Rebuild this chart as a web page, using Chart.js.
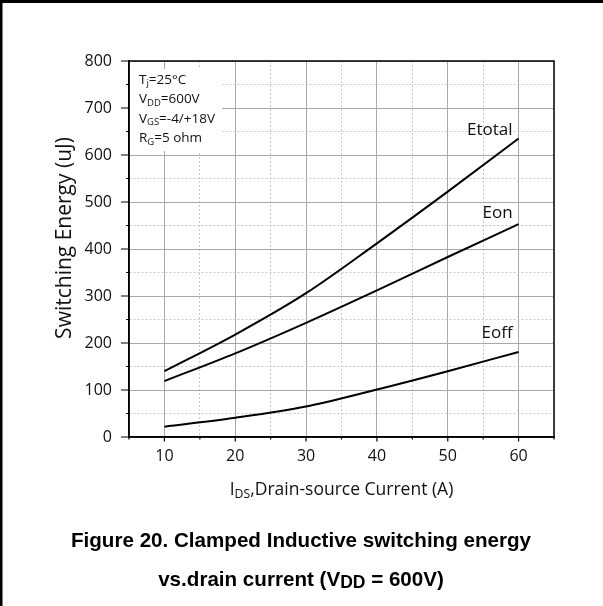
<!DOCTYPE html>
<html>
<head>
<meta charset="utf-8">
<script src="https://cdn.jsdelivr.net/npm/chart.js@4/dist/chart.umd.min.js"></script>
<style>
  html, body { margin: 0; padding: 0; background: #fff; }
  canvas { display: block; }
</style>
</head>
<body>
<canvas id="chart" width="603" height="606"></canvas>
<script>
// drain current (A) and switching energy (uJ)
const currents = [10, 20, 30, 40, 50, 60];
const eTotal = [140, 218, 306, 412, 522, 635];
const eOn = [119, 178, 243, 312, 383, 453];
const eOff = [22, 41, 65, 101, 140, 181];

const seriesNames = ["Etotal", "Eon", "Eoff"];
const conditions = [
    [["T", ""], ["j", "sub"], ["=25°C", ""]],
    [["V", ""], ["DD", "sub"], ["=600V", ""]],
    [["V", ""], ["GS", "sub"], ["=-4/+18V", ""]],
    [["R", ""], ["G", "sub"], ["=5 ohm", ""]],
];

const FONT = "'Open Sans', 'DejaVu Sans', sans-serif";

function toPoints(ys) {
    return currents.map((x, i) => ({ x: x, y: ys[i] }));
}

// text with subscripts, parts = [[text, "sub" | ""], ...]
function drawRich(ctx, parts, x, y, size, align, weight, family, subScale) {
    const w = weight || "normal";
    const fam = family || FONT;
    const k = subScale || 0.7;
    let total = 0;
    parts.forEach(([t, kind]) => {
        const s = kind === "sub" ? size * k : size;
        ctx.font = `${w} ${s}px ${fam}`;
        total += ctx.measureText(t).width;
    });
    let cx = align === "center" ? x - total / 2 : align === "right" ? x - total : x;
    ctx.textAlign = "left";
    ctx.textBaseline = "middle";
    parts.forEach(([t, kind]) => {
        const s = kind === "sub" ? size * k : size;
        ctx.font = `${w} ${s}px ${fam}`;
        ctx.fillText(t, cx, kind === "sub" ? y + size * (1 - k) * 0.9 : y);
        cx += ctx.measureText(t).width;
    });
}

const decorations = {
    id: "decorations",
    beforeDatasetsDraw(chart) {
        const ctx = chart.ctx;
        const a = chart.chartArea;
        // white box behind the test conditions
        ctx.save();
        ctx.fillStyle = "#fff";
        ctx.fillRect(a.left + 1, 69, 92, 82);
        ctx.restore();
    },
    afterDraw(chart) {
        const ctx = chart.ctx;
        const a = chart.chartArea;
        const xs = chart.scales.x;
        const ys = chart.scales.y;
        ctx.save();

        // plot frame
        ctx.strokeStyle = "#000";
        ctx.lineWidth = 1.5;
        ctx.strokeRect(a.left, a.top, a.right - a.left, a.bottom - a.top);

        // tick marks, outward
        ctx.lineWidth = 1.2;
        ctx.beginPath();
        xs.ticks.forEach(t => {
            const px = xs.getPixelForValue(t.value);
            const len = t.value % 10 === 0 ? 4.5 : 2.5;
            ctx.moveTo(px, a.bottom);
            ctx.lineTo(px, a.bottom + len);
        });
        ys.ticks.forEach(t => {
            const py = ys.getPixelForValue(t.value);
            const len = t.value % 100 === 0 ? 8 : 3;
            ctx.moveTo(a.left, py);
            ctx.lineTo(a.left - len, py);
        });
        ctx.stroke();

        // curve names
        ctx.fillStyle = "#111";
        const lastX = currents[currents.length - 1];
        const ends = [eTotal, eOn, eOff];
        const lift = [8, 11, 19];
        seriesNames.forEach((name, i) => {
            const px = xs.getPixelForValue(lastX) - 6;
            const py = ys.getPixelForValue(ends[i][ends[i].length - 1]) - lift[i];
            drawRich(ctx, [[name, ""]], px, py, 17, "right");
        });

        // test conditions
        ctx.fillStyle = "#111";
        conditions.forEach((parts, i) => {
            drawRich(ctx, parts, a.left + 10, 80 + i * 19.4, 13.5, "left");
        });

        // axis titles
        ctx.fillStyle = "#111";
        drawRich(ctx, [["I", ""], ["DS", "sub"], [",Drain-source Current (A)", ""]],
            (a.left + a.right) / 2, 490, 17.5, "center");
        ctx.save();
        ctx.translate(65, 238);
        ctx.rotate(-Math.PI / 2);
        drawRich(ctx, [["Switching Energy (uJ)", ""]], 0, 0, 21, "center");
        ctx.restore();

        // caption
        ctx.fillStyle = "#000";
        const cap = "'Liberation Sans', Arial, sans-serif";
        drawRich(ctx, [["Figure 20. Clamped Inductive switching energy", ""]],
            301, 541, 20.6, "center", "bold", cap);
        drawRich(ctx, [["vs.drain current (V", ""], ["DD", "sub"], [" = 600V)", ""]],
            301, 580, 20.6, "center", "bold", cap, 0.85);

        // page border on the top and left edges
        ctx.strokeStyle = "#000";
        ctx.lineWidth = 3;
        ctx.beginPath();
        ctx.moveTo(1, 606);
        ctx.lineTo(1, 1.5);
        ctx.lineTo(603, 1.5);
        ctx.stroke();

        ctx.restore();
    }
};

const lineStyle = {
    borderColor: "#000",
    borderWidth: 2,
    pointRadius: 0,
    fill: false,
    cubicInterpolationMode: "monotone",
};

new Chart(document.getElementById("chart").getContext("2d"), {
    type: "line",
    data: {
        datasets: [
            { label: seriesNames[0], data: toPoints(eTotal), ...lineStyle },
            { label: seriesNames[1], data: toPoints(eOn), ...lineStyle },
            { label: seriesNames[2], data: toPoints(eOff), ...lineStyle },
        ],
    },
    options: {
        responsive: false,
        animation: false,
        layout: { padding: { top: 61, right: 49, bottom: 109, left: 0 } },
        plugins: {
            legend: { display: false },
            tooltip: { enabled: false },
        },
        scales: {
            x: {
                type: "linear",
                min: 5,
                max: 65,
                afterFit: (scale) => { scale.height = 60; },
                ticks: {
                    stepSize: 5,
                    padding: 10,
                    color: "#111",
                    font: { family: FONT, size: 16 },
                    maxRotation: 0,
                    autoSkip: false,
                    callback: (v) => (v % 10 === 0 && v >= 10 && v <= 60 ? v : ""),
                },
                grid: {
                    drawTicks: false,
                    color: (c) => (c.tick && c.tick.value % 10 === 0 ? "#a8a8a8" : "#c9c9c9"),
                    lineWidth: 1,
                },
                border: {
                    display: true,
                    color: "#000",
                    width: 1.5,
                    dash: (c) => (c.tick && c.tick.value % 10 !== 0 ? [2, 2] : []),
                },
            },
            y: {
                type: "linear",
                min: 0,
                max: 800,
                afterFit: (scale) => { scale.width = 129; },
                ticks: {
                    stepSize: 50,
                    padding: 17,
                    color: "#111",
                    font: { family: FONT, size: 16 },
                    autoSkip: false,
                    callback: (v) => (v % 100 === 0 ? v : ""),
                },
                grid: {
                    drawTicks: false,
                    color: (c) => (c.tick && c.tick.value % 100 === 0 ? "#a8a8a8" : "#c9c9c9"),
                    lineWidth: 1,
                },
                border: {
                    display: true,
                    color: "#000",
                    width: 1.5,
                    dash: (c) => (c.tick && c.tick.value % 100 !== 0 ? [2, 2] : []),
                },
            },
        },
    },
    plugins: [decorations],
});
</script>
</body>
</html>
